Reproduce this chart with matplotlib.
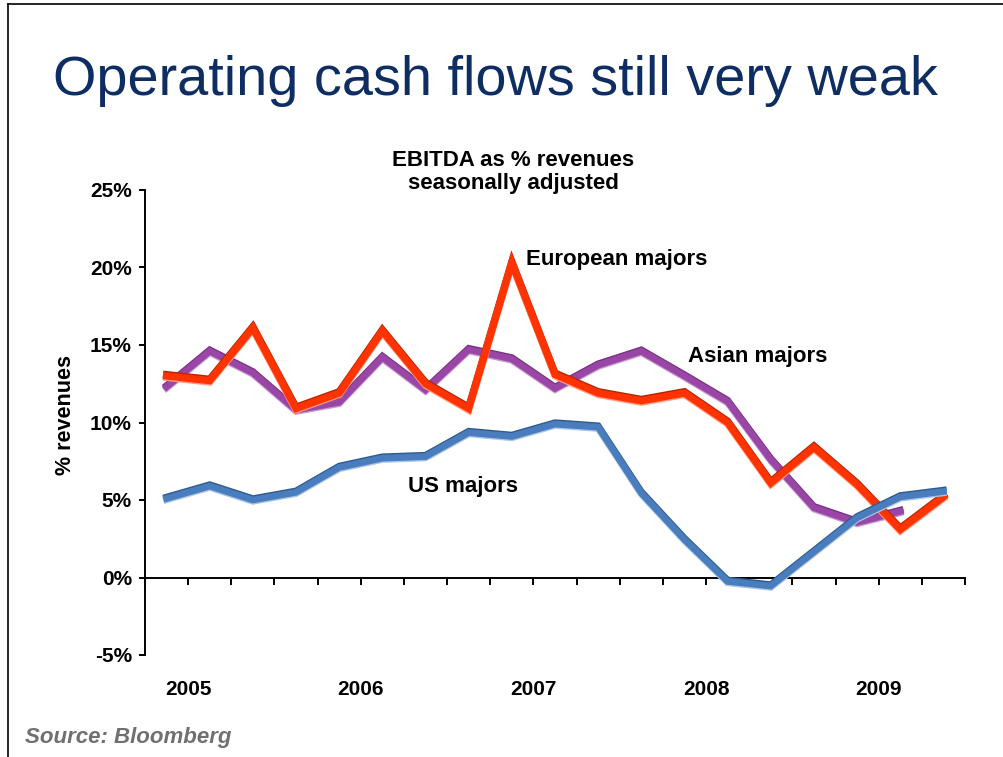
import matplotlib
matplotlib.use("Agg")
import matplotlib.pyplot as plt
import matplotlib.patheffects as pe
from matplotlib.lines import Line2D
import numpy as np

plt.rcParams['font.family'] = ['Liberation Sans', 'DejaVu Sans']

# Quarterly data, 2005 Q1 .. 2009 Q3
years = ['2005', '2006', '2007', '2008', '2009']
us_majors = [5.1, 5.9, 5.0, 5.5, 7.1, 7.7, 7.8, 9.35, 9.1, 9.9, 9.7, 5.45, 2.45, -0.25, -0.55, 1.65, 3.85, 5.2, 5.55]
european_majors = [13.0, 12.7, 16.1, 10.9, 11.9, 15.9, 12.5, 10.9, 20.3, 13.1, 11.9, 11.4, 11.9, 10.0, 6.1, 8.4, 6.0, 3.1, 5.2]
asian_majors = [12.3, 14.6, 13.2, 10.8, 11.3, 14.2, 12.1, 14.7, 14.1, 12.2, 13.7, 14.6, 13.0, 11.35, 7.6, 4.5, 3.55, 4.26]
y_ticks = [-5, 0, 5, 10, 15, 20, 25]

fig = plt.figure(figsize=(10.04, 7.57), dpi=100)
ax = fig.add_axes([145/1004, 1-655/757, (965-145)/1004, (655-190)/757])

def shaded(dark, light, lw):
    return [pe.Stroke(linewidth=lw, foreground=dark, offset=(0, 1.0)),
            pe.Stroke(linewidth=lw, foreground=light, offset=(0, -1.0)),
            pe.Normal()]

x_as = np.arange(len(asian_majors))
x_eu = np.arange(len(european_majors))
x_us = np.arange(len(us_majors))

ax.plot(x_as, asian_majors, color='#9A46A6', lw=4.8, solid_joinstyle='miter',
        path_effects=shaded('#7A2E86', '#C89AD0', 4.8), zorder=3)
ax.plot(x_eu, european_majors, color='#FF3300', lw=5.2, solid_joinstyle='miter',
        path_effects=shaded('#B82400', '#FF9A80', 5.2), zorder=4)
ax.plot(x_us, us_majors, color='#4A7DBD', lw=4.8, solid_joinstyle='miter',
        path_effects=shaded('#2E5A8E', '#A8C4E6', 4.8), zorder=5)

ax.set_xlim(-0.5, 18.5)
ax.set_ylim(-5, 25)

for s in ['top', 'right']:
    ax.spines[s].set_visible(False)
ax.spines['bottom'].set_position(('data', 0))
ax.spines['left'].set_linewidth(1.4)
ax.spines['bottom'].set_linewidth(1.4)

ax.set_yticks(y_ticks)
ax.set_yticklabels([f'{v}%' for v in y_ticks], fontsize=15, fontweight='bold')
ax.tick_params(axis='y', direction='out', length=4, width=1.4, pad=5.5)
ax.set_xticks(np.arange(-0.5, 19, 1))
ax.set_xticklabels([])
ax.tick_params(axis='x', direction='out', length=5, width=1.4)

for i, yr in enumerate(years):
    ax.text(i*4 + 0.5, -7.25, yr, ha='center', va='center', fontsize=15, fontweight='bold')

fig.text(66/1004, 1-415/757, '% revenues', rotation=90, ha='center', va='center',
         fontsize=15.5, fontweight='bold')

ax.text(8.33, 20.5, 'European majors', ha='left', va='center', fontsize=16, fontweight='bold')
ax.text(12.08, 14.26, 'Asian majors', ha='left', va='center', fontsize=16, fontweight='bold')
ax.text(5.6, 5.87, 'US majors', ha='left', va='center', fontsize=16, fontweight='bold')

fig.text(513/1004, 1-172/757, 'EBITDA as % revenues\nseasonally adjusted', ha='center', va='center',
         fontsize=16, fontweight='bold', linespacing=1.1)

fig.text(53/1004, 1-95/757, 'Operating cash flows still very weak', ha='left', va='baseline',
         fontsize=40.2, color='#0E2D62')

fig.text(25/1004, 1-738/757, 'Source: Bloomberg', ha='left', va='center', fontsize=16,
         fontweight='bold', fontstyle='italic', color='#707070')

# slide border (left and top)
fig.add_artist(Line2D([8/1004, 8/1004], [0, 1-4/757], color='black', lw=1.2, transform=fig.transFigure))
fig.add_artist(Line2D([8/1004, 1], [1-4/757, 1-4/757], color='black', lw=1.2, transform=fig.transFigure))

fig.savefig('out.png', dpi=100)
